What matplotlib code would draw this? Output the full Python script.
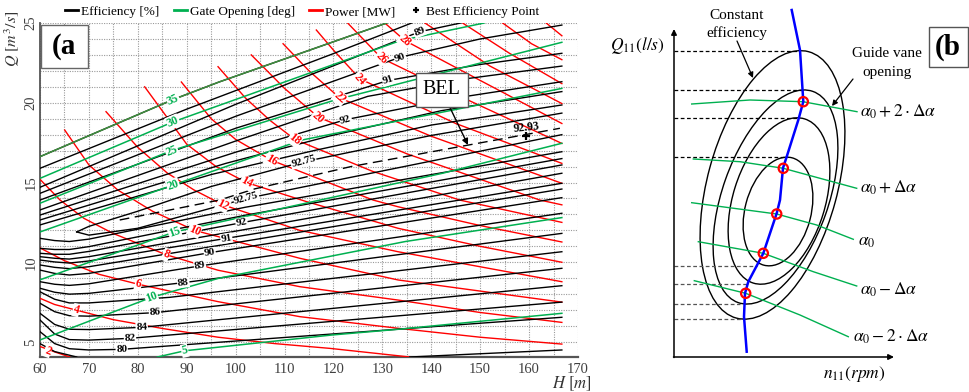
import numpy as np
import matplotlib
matplotlib.use("Agg")
import matplotlib.pyplot as plt
from matplotlib.lines import Line2D
from matplotlib.patches import Ellipse, Rectangle

plt.rcParams['font.family'] = ['Liberation Serif', 'DejaVu Serif']
plt.rcParams['mathtext.fontset'] = 'stix'

# ---------------- (a) hill chart: H [m] vs Q [m3/s] ----------------
# efficiency iso-lines above the best efficiency line
eff_up_H = [
    [67.5, 70, 80, 95, 113.9, 140, 166.7],
    [60, 95, 116, 140, 166.7],
    [60, 98, 119, 142, 166.7],
    [60, 100, 122.5, 145, 166.7],
    [60, 100, 127, 147, 166.7],
    [60, 100, 131.2, 150, 166.7],
    [60, 100, 133.6, 150, 166.7],
    [60, 100, 137.6, 146],
    [60, 90, 119.3, 136],
    [60, 87.2, 96.6, 130.9],
]
eff_up_Q = [
    [11.9, 12.25, 13.2, 14.75, 16.3, 17.95, 19.35],
    [12.34, 15.5, 17.0, 18.6, 19.86],
    [12.65, 16.2, 17.9, 19.5, 20.7],
    [12.96, 16.9, 18.94, 20.3, 21.32],
    [13.28, 17.6, 20.4, 21.5, 22.3],
    [13.9, 18.4, 21.4, 22.4, 23.1],
    [14.32, 19.15, 22.85, 24.0, 24.87],
    [14.7, 19.9, 24.45, 25.0],
    [15.89, 19.6, 23.0, 25.0],
    [16.62, 20.2, 21.3, 25.0],
]
# efficiency iso-lines below the best efficiency line
eff_low_H = [
    [67.5, 70, 80, 102.2, 166.7],
    [60, 63, 66, 70, 102, 166.7],
    [60, 63, 66, 70, 102, 166.7],
    [60, 63, 66, 70, 101.2, 166.7],
    [60, 63, 66, 70, 100, 166.7],
    [60, 63, 66, 70, 98.1, 166.7],
    [60, 63, 66, 70, 96.5, 166.7],
    [60, 63, 66, 70, 94.7, 166.7],
    [60, 63, 66, 70, 92.7, 166.7],
    [60, 63, 66, 70, 89.3, 166.7],
    [60, 63, 66, 70, 86.5, 166.7],
    [60, 63, 66, 70, 83.5, 166.7],
    [60, 63, 66, 70, 80.8, 166.7],
    [60, 63, 66, 70, 78.4, 166.7],
    [60, 63, 66, 70, 76.7, 166.7],
    [60, 63, 67.5],
    [135.6, 166.7],
]
eff_low_Q = [
    [11.9, 11.7, 12.13, 14.0, 18.0],
    [11.5, 11.36, 11.3, 11.45, 13.45, 16.93],
    [10.87, 10.8, 10.8, 10.98, 12.95, 16.5],
    [10.56, 10.5, 10.5, 10.68, 12.48, 16.1],
    [10.35, 10.25, 10.2, 10.35, 11.95, 15.58],
    [10.14, 10.02, 9.95, 10.08, 11.5, 14.95],
    [9.83, 9.68, 9.6, 9.72, 11.05, 14.59],
    [9.51, 9.3, 9.2, 9.3, 10.6, 14.05],
    [8.78, 8.62, 8.55, 8.65, 9.77, 13.07],
    [8.37, 8.12, 8.0, 8.05, 8.72, 11.81],
    [8.15, 7.68, 7.45, 7.45, 7.8, 10.66],
    [7.43, 6.9, 6.65, 6.62, 6.84, 9.62],
    [6.8, 6.1, 5.8, 5.78, 5.92, 8.53],
    [6.38, 5.5, 5.15, 5.12, 5.23, 7.5],
    [5.65, 4.9, 4.58, 4.5, 4.54, 6.55],
    [4.9, 4.4, 4.06],
    [4.06, 4.5],
]
eff_label_text = ['92.75', '92', '91', '90', '89',
                  '92.75', '92', '91', '90', '89', '88', '86', '84', '82', '80']
eff_label_H = [113.9, 122.5, 131.2, 133.6, 137.6,
               102.2, 101.2, 98.1, 94.7, 92.7, 89.3, 83.5, 80.8, 78.4, 76.7]
eff_label_Q = [16.3, 18.94, 21.4, 22.85, 24.45,
               14.0, 12.48, 11.5, 10.6, 9.77, 8.72, 6.84, 5.92, 5.23, 4.54]

# guide vane (gate) opening lines [deg]
gate_levels = [5, 10, 15, 20, 25, 30, 35]
gate_H = [
    [84, 89.6, 119.7, 133.7, 166.7],
    [60, 82.8, 96.6, 134.7, 166.7],
    [60, 87.5, 142.3, 166.7],
    [60, 87.2, 113.5, 166.7],
    [60, 86.9, 120.3, 166.7],
    [60, 87.2, 133.7, 150.8],
    [60, 87.2, 96.6, 130.9],
]
gate_Q = [
    [4.06, 4.45, 5.44, 5.81, 6.8],
    [5.13, 7.8, 9.0, 11.3, 12.8],
    [8.9, 11.9, 15.58, 17.46],
    [11.9, 14.84, 17.66, 20.9],
    [13.7, 17.0, 20.17, 23.79],
    [15.26, 18.8, 23.9, 25.0],
    [16.62, 20.2, 21.3, 25.0],
]
gate_label_H = [89.6, 82.8, 87.5, 87.2, 86.9, 87.2, 87.2]
gate_label_Q = [4.45, 7.8, 11.9, 14.84, 17.0, 18.8, 20.2]

# power lines [MW]
power_levels = [2, 4, 6, 8, 10, 12, 14, 16, 18, 20, 22, 24, 26, 28, 30, 32, 34, 36]
power_H = [
    [60, 63, 66.1],
    [60, 63, 67.4, 75, 85, 96.4, 108, 119.3, 135.6],
    [60, 65, 72, 80.1, 96.4, 113.1, 133.2, 150, 166.7],
    [60, 64.1, 69, 75, 85.8, 96.4, 113.1, 133.2, 150, 166.7],
    [65.05, 70, 75.9, 83, 91.6, 113.1, 133.2, 166.7],
    [73.5, 80, 86, 91.5, 97.4, 113.1, 133.2, 166.7],
    [81.4, 90, 96, 102.2, 114.5, 133.2, 150, 166.7],
    [88.9, 95, 100, 107.3, 128.1, 133.2, 150, 166.7],
    [96.4, 102, 107, 112.1, 128, 145.8, 166.7],
    [103.2, 110, 116.9, 135, 162.2, 166.7],
    [109.7, 115, 121.3, 140, 166.7],
    [116.5, 120, 125.4, 145, 166.7],
    [122.9, 129.8, 148, 166.7],
    [130.5, 134.6, 150, 166.7],
    [138.7, 152, 166.7],
    [146.4, 156, 166.7],
    [154.6, 160.5, 166.7],
    [163.5, 166.7],
]
power_Q = [
    [4.72, 4.38, 4.06],
    [7.74, 7.35, 7.0, 6.4, 5.85, 5.3, 4.9, 4.6, 4.06],
    [10.9, 10.1, 9.25, 8.62, 7.53, 6.59, 5.86, 5.3, 4.87],
    [15.2, 13.9, 12.75, 11.8, 10.47, 9.5, 8.47, 7.63, 6.85, 6.23],
    [18.29, 16.1, 14.53, 13.2, 12.0, 10.25, 8.89, 7.5],
    [19.44, 17.2, 15.6, 14.53, 13.6, 12.0, 10.66, 8.78],
    [21.0, 17.4, 16.0, 15.0, 13.8, 12.13, 11.0, 10.0],
    [21.3, 19.0, 17.7, 16.4, 13.9, 13.48, 12.3, 11.27],
    [22.26, 20.3, 18.9, 17.7, 15.7, 13.9, 12.5],
    [23.0, 20.9, 19.1, 16.8, 13.9, 13.6],
    [23.7, 22.0, 20.3, 17.9, 14.95],
    [24.56, 23.3, 21.5, 18.7, 16.2],
    [25.0, 22.8, 20.1, 17.45],
    [25.0, 23.9, 21.4, 18.7],
    [25.0, 22.3, 19.95],
    [25.0, 23.1, 21.2],
    [25.0, 23.7, 22.7],
    [25.0, 24.2],
]
power_label_H = [61.6, 67.4, 80.1, 85.8, 91.6, 97.4, 102.2, 107.3, 112.1,
                 116.9, 121.3, 125.4, 129.8, 134.6]
power_label_Q = [4.45, 7.0, 8.62, 10.47, 12.0, 13.6, 15.0, 16.4, 17.7,
                 19.1, 20.3, 21.5, 22.8, 23.9]

# best efficiency line and point
bel_H = [76.3, 96.7, 103.9, 123.6, 166.3]
bel_Q = [12.65, 13.9, 14.6, 16.0, 18.4]
bep_H, bep_Q, bep_eff = 159.4, 17.92, 92.93

C_EFF, C_GATE, C_POW = '#000000', '#00b050', '#ff0000'

fig = plt.figure(figsize=(9.69, 3.92), dpi=100)
ax = fig.add_axes([40 / 969, 35 / 392, 538 / 969, 334 / 392])
ax.set_xlim(60, 170)
ax.set_ylim(4.06, 25)
ax.set_xticks(np.arange(60, 171, 10))
ax.set_xticks(np.arange(60, 171, 5), minor=True)
ax.set_yticks([5, 10, 15, 20, 25])
ax.set_yticks(np.arange(5, 26, 1), minor=True)
ax.grid(True, which='both', ls=(0, (1, 1.2)), color='#9a9a9a', lw=0.8)
ax.set_axisbelow(True)
for s in ['top', 'right']:
    ax.spines[s].set_visible(False)
ax.spines['left'].set_color('#555555')
ax.spines['bottom'].set_color('#555555')
ax.spines['left'].set_linewidth(1.3)
ax.spines['bottom'].set_linewidth(1.6)
ax.tick_params(which='both', length=0, labelsize=10.5, labelcolor='#404040', pad=4)
ax.tick_params(axis='y', pad=2)
for lab in ax.get_yticklabels():
    lab.set_rotation(90)
    lab.set_va('center')


def label_angle(lines_H, lines_Q, h, q):
    best, ang = None, 0.0
    for H, Q in zip(lines_H, lines_Q):
        if h < H[0] or h > H[-1]:
            continue
        i = int(np.clip(np.searchsorted(H, h), 1, len(H) - 1))
        qi = np.interp(h, H, Q)
        d = abs(qi - q)
        if best is None or d < best:
            p1 = ax.transData.transform((H[i - 1], Q[i - 1]))
            p2 = ax.transData.transform((H[i], Q[i]))
            best = d
            ang = np.degrees(np.arctan2(p2[1] - p1[1], p2[0] - p1[0]))
    return ang


lbl_box = dict(boxstyle='square,pad=0.05', fc='white', ec='none')

for H, Q in zip(power_H, power_Q):
    ax.plot(H, Q, color=C_POW, lw=1.0, zorder=3)
for H, Q in zip(eff_up_H + eff_low_H, eff_up_Q + eff_low_Q):
    ax.plot(H, Q, color=C_EFF, lw=1.0, zorder=3)
for k, (H, Q) in enumerate(zip(gate_H, gate_Q)):
    ax.plot(H, Q, color='#3f8f3f' if gate_levels[k] == 35 else C_GATE, lw=1.1, zorder=4)
ax.plot(bel_H, bel_Q, color='k', lw=1.0, ls=(0, (7, 4)), zorder=4)
ax.plot([bep_H], [bep_Q], marker='+', color='k', ms=6, mew=1.6, ls='none', zorder=6)
ax.text(bep_H, bep_Q + 0.55, f'{bep_eff:.2f}', fontsize=8.5, fontweight='bold',
        ha='center', va='center', rotation=6, zorder=6)

for t, h, q in zip(eff_label_text, eff_label_H, eff_label_Q):
    a = label_angle(eff_up_H + eff_low_H, eff_up_Q + eff_low_Q, h, q)
    ax.text(h, q, t, fontsize=8, fontweight='bold', color=C_EFF, ha='center',
            va='center', rotation=a, rotation_mode='anchor', bbox=lbl_box, zorder=7)
for lev, h, q in zip(gate_levels, gate_label_H, gate_label_Q):
    a = label_angle(gate_H, gate_Q, h, q)
    ax.text(h, q, str(lev), fontsize=8.5, fontweight='bold', color=C_GATE, ha='center',
            va='center', rotation=a, rotation_mode='anchor', bbox=lbl_box, zorder=7)
for lev, h, q in zip(power_levels, power_label_H, power_label_Q):
    a = label_angle(power_H, power_Q, h, q)
    ax.text(h, q, str(lev), fontsize=8.5, fontweight='bold', color=C_POW, ha='center',
            va='center', rotation=a, rotation_mode='anchor', bbox=lbl_box, zorder=7)

# BEL call-out
ax.annotate('BEL', xy=(147.5, 17.35), xytext=(142.1, 20.8),
            fontsize=14.5, ha='center', va='center', zorder=8,
            bbox=dict(boxstyle='square,pad=0.35', fc='white', ec='#555555', lw=1),
            arrowprops=dict(arrowstyle='-|>', color='k', lw=1.0, mutation_scale=9,
                            shrinkA=0, shrinkB=0))

# legend and axis titles
handles = [Line2D([], [], color=C_EFF, lw=2), Line2D([], [], color=C_GATE, lw=2),
           Line2D([], [], color=C_POW, lw=2),
           Line2D([], [], color='k', marker='+', ls='none', ms=5, mew=1.6)]
fig.legend(handles, ['Efficiency [%]', 'Gate Opening [deg]', 'Power [MW]',
                     'Best Efficiency Point'],
           loc='center', bbox_to_anchor=(302 / 969, 1 - 12 / 392), ncol=4,
           frameon=False, fontsize=9.5, handlelength=1.0, handletextpad=0.2,
           columnspacing=1.1, borderpad=0)
fig.text(12 / 969, 1 - 39 / 392, r'$Q\ [m^3/s]$', rotation=90, fontsize=11.5,
         ha='center', va='center', color='#333333')
fig.text(572 / 969, 1 - 384 / 392, r'$H\ [m]$', fontsize=12, ha='center',
         va='center', color='#333333')
fig.add_artist(Rectangle((41 / 969, 1 - 68 / 392), 47 / 969, 43 / 392,
                         transform=fig.transFigure, fc='white', ec='#666666',
                         lw=1.0, zorder=9))
fig.text(64 / 969, 1 - 47 / 392, '(a', fontsize=21, fontweight='bold',
         ha='center', va='center', zorder=10)

# ---------------- (b) schematic hill diagram ----------------
ell_cx = [772.5, 775.5, 779.0, 778.0]
ell_cy = [184.9, 197.0, 201.0, 211.5]
ell_w = [130, 106, 92, 66]
ell_h = [276, 224, 172, 111]
ell_ang = [15.2, 19.5, 17.4, 14.7]
dash_top_y = [50.7, 90.0, 118.3, 157.3]
dash_top_x = [800, 804, 797, 787]
dash_bot_y = [266, 284, 304, 319]
dash_bot_x = [757, 747, 740, 743]
blue_x = [791.7, 800, 803.3, 798.3, 786.7, 783, 780, 776.7, 763.3, 748.3, 745, 744, 746.7]
blue_y = [10, 50, 101.7, 120, 156.7, 168, 200, 213.3, 253.3, 281.7, 293.3, 316.7, 351.7]
circ_x = [803.3, 783.3, 776.7, 763.3, 745.7]
circ_y = [101.7, 168.3, 214.0, 253.3, 293.3]
vane_x = [[691.7, 750, 803, 857], [693.3, 740, 783.3, 856.7],
          [691.7, 776.7, 816.7, 853.3], [698.3, 763.3, 813.3, 856.7],
          [694.3, 745.7, 800, 848.3]]
vane_y = [[104, 100, 101.7, 111.7], [159, 161.7, 168.3, 188.3],
          [202.7, 214, 225, 239.3], [241.7, 253.3, 271.7, 286],
          [280.7, 293.3, 315, 336.7]]
vane_text = [r'$\alpha_0+2\cdot\Delta\alpha$', r'$\alpha_0+\Delta\alpha$',
             r'$\alpha_0$', r'$\alpha_0-\Delta\alpha$', r'$\alpha_0-2\cdot\Delta\alpha$']
vane_text_x = [860, 860, 858, 860, 853]
vane_text_y = [112, 188, 242, 290, 337]

axb = fig.add_axes([600 / 969, 0, 369 / 969, 1])
axb.set_xlim(600, 969)
axb.set_ylim(392, 0)
axb.axis('off')

axb.annotate('', xy=(674, 29), xytext=(674, 357.5),
             arrowprops=dict(arrowstyle='-|>', color='k', lw=1.1, mutation_scale=8,
                             shrinkA=0, shrinkB=0))
axb.annotate('', xy=(894, 357), xytext=(673.5, 357),
             arrowprops=dict(arrowstyle='-|>', color='k', lw=1.1, mutation_scale=8,
                             shrinkA=0, shrinkB=0))
for y, x in zip(dash_top_y, dash_top_x):
    axb.plot([674, x], [y, y], color='k', lw=0.9, ls=(0, (3, 2)))
for y, x in zip(dash_bot_y, dash_bot_x):
    axb.plot([674, x], [y, y], color='#555555', lw=0.9, ls=(0, (3, 2)))
for cx, cy, w, h, a in zip(ell_cx, ell_cy, ell_w, ell_h, ell_ang):
    axb.add_patch(Ellipse((cx, cy), w, h, angle=a, fc='none', ec='k', lw=1.0))
for xs, ys in zip(vane_x, vane_y):
    axb.plot(xs, ys, color=C_GATE, lw=1.0)
axb.plot(blue_x, blue_y, color='#0000ff', lw=1.8, zorder=5)
axb.scatter(circ_x, circ_y, s=45, facecolors='none', edgecolors=C_POW,
            linewidths=1.6, zorder=6)
for t, x, y in zip(vane_text, vane_text_x, vane_text_y):
    axb.text(x, y, t, fontsize=12.5, ha='left', va='center')

axb.text(637, 45, r'$Q_{11}(l/s)$', fontsize=12.5, ha='center', va='center')
axb.text(854, 374, r'$n_{11}(rpm)$', fontsize=12.5, ha='center', va='center')
axb.text(737, 15, 'Constant', fontsize=11, ha='center', va='center')
axb.text(737, 33, 'efficiency', fontsize=11, ha='center', va='center')
axb.annotate('', xy=(753, 78), xytext=(737, 41),
             arrowprops=dict(arrowstyle='-|>', color='k', lw=0.9, mutation_scale=8,
                             shrinkA=0, shrinkB=0))
axb.text(887, 53, 'Guide vane', fontsize=11, ha='center', va='center')
axb.text(887, 72, 'opening', fontsize=11, ha='center', va='center')
axb.annotate('', xy=(832, 106), xytext=(853, 79),
             arrowprops=dict(arrowstyle='-|>', color='k', lw=0.9, mutation_scale=8,
                             shrinkA=0, shrinkB=0))
axb.add_patch(Rectangle((928.5, 27), 39.5, 40, fc='white', ec='#555555', lw=1.0))
axb.text(948, 47, '(b', fontsize=21, fontweight='bold', ha='center', va='center')

fig.savefig('out.png', dpi=100)
